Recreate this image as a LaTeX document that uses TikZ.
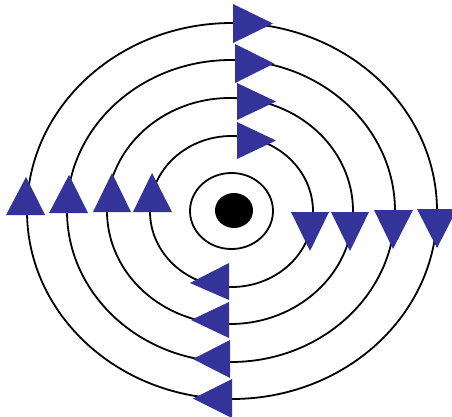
\documentclass[tikz,border=0pt]{standalone}
\definecolor{arrowblue}{RGB}{51,51,153}
\tikzset{
  ring/.style={draw=black, line width=1.8pt},
  head/.style={fill=arrowblue, draw=none}
}
\begin{document}
\begin{tikzpicture}[x=1pt,y=-1pt]
\useasboundingbox (0,0) rectangle (452,417);
\clip (0,0) rectangle (452,417);
% rings
\draw[ring] (232,211) ellipse [x radius=205, y radius=188];
\draw[ring] (231,211) ellipse [x radius=164, y radius=151];
\draw[ring] (230,211) ellipse [x radius=123, y radius=113];
\draw[ring] (231.5,211.5) ellipse [x radius=81.5, y radius=75.5];
\draw[ring] (231.5,211) ellipse [x radius=41.5, y radius=38];
\fill[black] (234,210.5) ellipse [x radius=19, y radius=17.5];
% top heads (pointing right)
\fill[head] (233,4) -- (233,43) -- (273,23.5) -- cycle;
\fill[head] (235,44) -- (235,83) -- (274,63.5) -- cycle;
\fill[head] (237,83) -- (237,120) -- (276,101.5) -- cycle;
\fill[head] (237,122) -- (237,159) -- (276,140.5) -- cycle;
% left heads (pointing up)
\fill[head] (6,215) -- (45,215) -- (26,177) -- cycle;
\fill[head] (49,213) -- (88,213) -- (69,175) -- cycle;
\fill[head] (93,212) -- (131,212) -- (112,173) -- cycle;
\fill[head] (133,212) -- (172,212) -- (152,173) -- cycle;
% right heads (pointing down)
\fill[head] (417,209) -- (457,209) -- (437,248) -- cycle;
\fill[head] (374,210) -- (413,210) -- (393,249) -- cycle;
\fill[head] (331,212) -- (369,212) -- (350,251) -- cycle;
\fill[head] (291,212) -- (329,212) -- (310,251) -- cycle;
% bottom heads (pointing left)
\fill[head] (232,379) -- (232,418) -- (193,398.5) -- cycle;
\fill[head] (230,340) -- (230,378) -- (193,359) -- cycle;
\fill[head] (229,302) -- (229,338) -- (191,320) -- cycle;
\fill[head] (229,263) -- (229,300) -- (190,283) -- cycle;
\end{tikzpicture}
\end{document}
